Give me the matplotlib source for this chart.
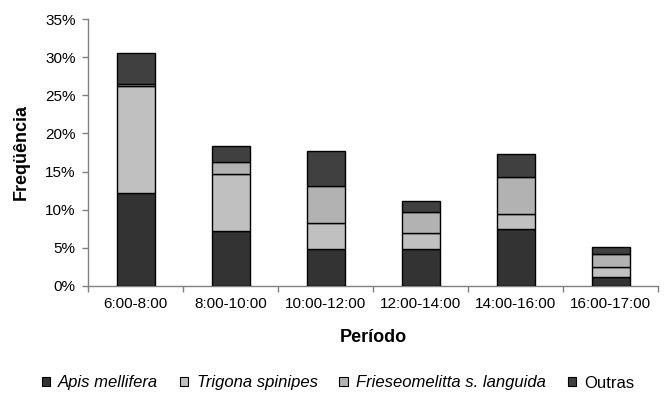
import matplotlib
matplotlib.use("Agg")
import matplotlib.pyplot as plt
from matplotlib.patches import Patch
from matplotlib.ticker import FuncFormatter
import numpy as np

plt.rcParams['font.family'] = ['Liberation Sans', 'DejaVu Sans']

periods = ["6:00-8:00", "8:00-10:00", "10:00-12:00", "12:00-14:00", "14:00-16:00", "16:00-17:00"]
series_names = ["Apis mellifera", "Trigona spinipes", "Frieseomelitta s. languida", "Outras"]
apis = [12.2, 7.2, 4.8, 4.8, 7.4, 1.2]
trigona = [14.1, 7.5, 3.4, 2.1, 2.0, 1.3]
friese = [0.2, 1.6, 4.9, 2.8, 4.9, 1.6]
outras = [4.1, 2.0, 4.6, 1.4, 3.0, 1.0]
yticks = [0, 5, 10, 15, 20, 25, 30, 35]

colors = ["#333333", "#c0c0c0", "#b2b2b2", "#404040"]

fig = plt.figure(figsize=(6.67, 3.93), dpi=100)
ax = fig.add_axes([88/667, 1-285.7/393, (658-88)/667, (285.7-19.3)/393])

x = np.arange(len(periods))
bottom = np.zeros(len(periods))
for vals, c in zip([apis, trigona, friese, outras], colors):
    v = np.array(vals) / 100.0
    ax.bar(x, v, width=0.4, bottom=bottom, color=c, edgecolor="black", linewidth=1.0, zorder=3)
    bottom += v

ax.set_xlim(-0.5, len(periods) - 0.5)
ax.set_ylim(0, 0.35)
ax.set_yticks([t/100 for t in yticks])
ax.yaxis.set_major_formatter(FuncFormatter(lambda v, p: f"{v*100:.0f}%"))

ax.set_xticks(np.arange(-0.5, len(periods), 1.0))
ax.set_xticklabels([])
ax.set_xticks(x, minor=True)
ax.set_xticklabels(periods, minor=True)
ax.tick_params(axis='x', which='minor', length=0, pad=8, labelsize=11)
ax.tick_params(axis='x', which='major', length=4, width=1, color="#808080", direction='out')
ax.tick_params(axis='y', length=4, width=1, color="#808080", direction='out', pad=5, labelsize=11)

for s in ['top', 'right']:
    ax.spines[s].set_visible(False)
for s in ['left', 'bottom']:
    ax.spines[s].set_color("#808080")
    ax.spines[s].set_linewidth(1.0)

fig.text(21/667, 1-152/393, "Freqüência", rotation=90, ha='center', va='center',
         fontsize=13, fontweight='bold')
fig.text(373/667, 1-338/393, "Período", ha='center', va='center',
         fontsize=13, fontweight='bold')

handles = [Patch(facecolor=c, edgecolor="black", linewidth=0.8) for c in colors]
leg = fig.legend(handles, series_names, loc='center', bbox_to_anchor=(338/667, 1-383/393),
                 ncol=4, frameon=False, fontsize=12, handlelength=0.5, handleheight=0.5,
                 handletextpad=0.5, columnspacing=1.3, borderaxespad=0, borderpad=0)
for i, t in enumerate(leg.get_texts()):
    if i < 3:
        t.set_fontstyle('italic')

fig.savefig("out.png", dpi=100)
